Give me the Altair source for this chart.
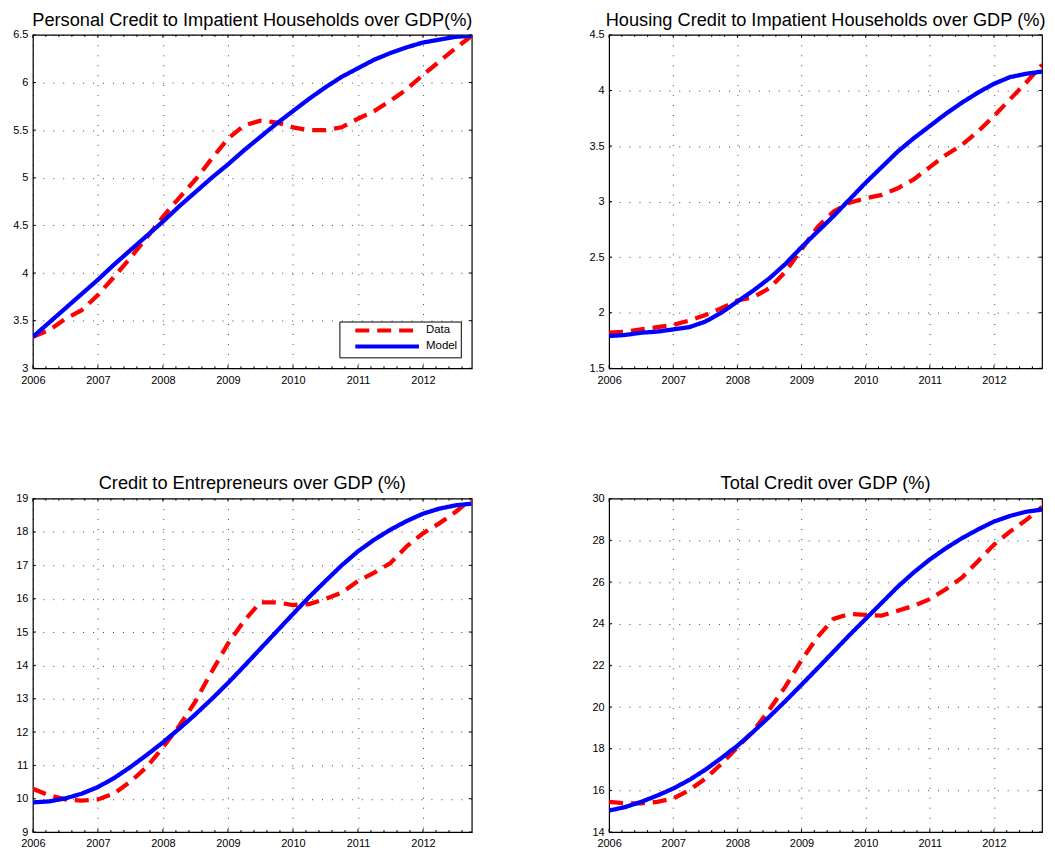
import altair as alt
import pandas as pd

# ================== DATA ==================

QUARTERS = [
    2006.0, 2006.25, 2006.5, 2006.75, 2007.0, 2007.25, 2007.5, 2007.75,
    2008.0, 2008.25, 2008.5, 2008.75, 2009.0, 2009.25, 2009.5, 2009.75,
    2010.0, 2010.25, 2010.5, 2010.75, 2011.0, 2011.25, 2011.5, 2011.75,
    2012.0, 2012.25, 2012.5, 2012.75,
]
SERIES = ["Data", "Model"]

PERSONAL_DATA = [
    3.33, 3.40, 3.52, 3.61, 3.77, 3.96, 4.16, 4.37,
    4.59, 4.79, 4.98, 5.20, 5.41, 5.55, 5.60, 5.58,
    5.53, 5.50, 5.50, 5.53, 5.62, 5.70, 5.81, 5.93,
    6.08, 6.22, 6.36, 6.49,
]
PERSONAL_MODEL = [
    3.33, 3.48, 3.63, 3.78, 3.93, 4.09, 4.24, 4.39,
    4.54, 4.70, 4.85, 5.00, 5.14, 5.29, 5.43, 5.57,
    5.70, 5.83, 5.95, 6.06, 6.15, 6.24, 6.31, 6.37,
    6.42, 6.45, 6.48, 6.49,
]

HOUSING_DATA = [
    1.82, 1.83, 1.85, 1.87, 1.89, 1.93, 1.98, 2.04,
    2.11, 2.14, 2.22, 2.37, 2.57, 2.77, 2.91, 2.99,
    3.03, 3.06, 3.12, 3.20, 3.31, 3.42, 3.51, 3.63,
    3.77, 3.92, 4.07, 4.23,
]
HOUSING_MODEL = [
    1.79, 1.80, 1.82, 1.83, 1.85, 1.87, 1.92, 2.00,
    2.10, 2.20, 2.31, 2.44, 2.59, 2.73, 2.87, 3.02,
    3.17, 3.31, 3.45, 3.57, 3.68, 3.79, 3.89, 3.98,
    4.06, 4.12, 4.15, 4.17,
]

ENTREPRENEURS_DATA = [
    10.30, 10.10, 9.98, 9.94, 9.98, 10.16, 10.51, 10.95,
    11.54, 12.18, 12.92, 13.81, 14.65, 15.34, 15.89, 15.89,
    15.81, 15.84, 15.99, 16.18, 16.53, 16.78, 17.07, 17.57,
    17.96, 18.26, 18.60, 19.00,
]
ENTREPRENEURS_MODEL = [
    9.89, 9.92, 10.01, 10.15, 10.35, 10.62, 10.95, 11.31,
    11.69, 12.10, 12.53, 12.99, 13.47, 13.98, 14.50, 15.02,
    15.54, 16.05, 16.53, 17.00, 17.42, 17.77, 18.07, 18.33,
    18.55, 18.70, 18.80, 18.85,
]

TOTAL_DATA = [
    15.45, 15.38, 15.38, 15.45, 15.61, 16.01, 16.56, 17.27,
    18.06, 18.85, 19.88, 20.99, 22.25, 23.36, 24.23, 24.47,
    24.42, 24.39, 24.62, 24.86, 25.18, 25.65, 26.21, 27.00,
    27.79, 28.42, 28.97, 29.60,
]
TOTAL_MODEL = [
    15.03, 15.20, 15.45, 15.75, 16.09, 16.50, 16.99, 17.55,
    18.14, 18.82, 19.54, 20.29, 21.07, 21.86, 22.66, 23.46,
    24.23, 25.00, 25.77, 26.46, 27.08, 27.62, 28.10, 28.52,
    28.90, 29.17, 29.37, 29.48,
]

YEAR_TICKS = [2006, 2007, 2008, 2009, 2010, 2011, 2012]
MINOR_X_TICKS = [y + f for y in YEAR_TICKS for f in (0.2, 0.4, 0.6, 0.8) if y + f < 2012.75]

# ================== STYLE ==================

FONT = "Liberation Sans"
W_LEFT, W_RIGHT, H = 441, 435, 335
TICK = 3
MINOR_TICK = 2


def make_panel(title, data_vals, model_vals, y_domain, y_ticks, width, show_legend=False):
    df = pd.DataFrame({
        "t": QUARTERS * 2,
        "value": data_vals + model_vals,
        "series": ["Data"] * len(QUARTERS) + ["Model"] * len(QUARTERS),
    })
    x_scale = alt.Scale(domain=[2006, 2012.75], nice=False, zero=False)
    y_scale = alt.Scale(domain=y_domain, nice=False, zero=False)
    x_axis = alt.Axis(values=YEAR_TICKS, format="d", title=None)
    y_axis = alt.Axis(values=y_ticks, format="~g", title=None)

    if show_legend:
        legend = alt.Legend(
            title=None, orient="bottom-right", offset=11,
            strokeColor="black", fillColor="white", padding=3,
            symbolType="M-8,0H8", symbolSize=64, symbolStrokeWidth=4,
            symbolOffset=39, labelOffset=33, rowPadding=0,
            labelExpr="datum.label + '   '",
            labelFont=FONT, labelFontSize=11.5, labelColor="black",
        )
    else:
        legend = None

    lines = alt.Chart(df).mark_line(clip=True, strokeCap="butt", strokeWidth=4.3).encode(
        x=alt.X("t:Q", scale=x_scale, axis=x_axis),
        y=alt.Y("value:Q", scale=y_scale, axis=y_axis),
        color=alt.Color("series:N", legend=legend,
                        scale=alt.Scale(domain=SERIES, range=["#ff0000", "#0000ff"])),
        strokeDash=alt.StrokeDash("series:N", legend=legend,
                                  scale=alt.Scale(domain=SERIES, range=[[14, 8], [1, 0]])),
    )

    # inward tick marks on all four sides, MATLAB style
    xt = alt.Chart(pd.DataFrame({"t": YEAR_TICKS}))
    xm = alt.Chart(pd.DataFrame({"t": MINOR_X_TICKS}))
    yt = alt.Chart(pd.DataFrame({"value": y_ticks}))
    x_enc = alt.X("t:Q", scale=x_scale, axis=x_axis)
    y_enc = alt.Y("value:Q", scale=y_scale, axis=y_axis)

    ticks = [
        xt.mark_rule(color="black").encode(x=x_enc, y=alt.value(H), y2=alt.value(H - TICK)),
        xt.mark_rule(color="black").encode(x=x_enc, y=alt.value(0), y2=alt.value(TICK)),
        xm.mark_rule(color="black").encode(x=x_enc, y=alt.value(H), y2=alt.value(H - MINOR_TICK)),
        xm.mark_rule(color="black").encode(x=x_enc, y=alt.value(0), y2=alt.value(MINOR_TICK)),
        yt.mark_rule(color="black").encode(y=y_enc, x=alt.value(0), x2=alt.value(TICK)),
        yt.mark_rule(color="black").encode(y=y_enc, x=alt.value(width), x2=alt.value(width - TICK)),
    ]

    return alt.layer(lines, *ticks).properties(
        width=width, height=H,
        title=alt.TitleParams(title, fontSize=18.3, font=FONT, fontWeight="normal",
                              color="black", anchor="middle", frame="group", offset=-1),
    )


p1 = make_panel("Personal Credit to Impatient Households over GDP(%)",
                PERSONAL_DATA, PERSONAL_MODEL, [3, 6.5],
                [3, 3.5, 4, 4.5, 5, 5.5, 6, 6.5], W_LEFT, show_legend=True)
p2 = make_panel("Housing Credit to Impatient Households over GDP (%)",
                HOUSING_DATA, HOUSING_MODEL, [1.5, 4.5],
                [1.5, 2, 2.5, 3, 3.5, 4, 4.5], W_RIGHT)
p3 = make_panel("Credit to Entrepreneurs over GDP (%)",
                ENTREPRENEURS_DATA, ENTREPRENEURS_MODEL, [9, 19],
                [9, 10, 11, 12, 13, 14, 15, 16, 17, 18, 19], W_LEFT)
p4 = make_panel("Total Credit over GDP (%)",
                TOTAL_DATA, TOTAL_MODEL, [14, 30],
                [14, 16, 18, 20, 22, 24, 26, 28, 30], W_RIGHT)

chart = (
    alt.concat(p1, p2, p3, p4, columns=2, bounds="flush",
               spacing={"row": 131, "column": 138})
    .resolve_scale(color="independent", strokeDash="independent")
    .properties(padding={"left": 0, "top": 0, "right": 0, "bottom": 0}, background="white")
    .configure_view(stroke="black", strokeWidth=1.2)
    .configure_axis(
        labelFont=FONT, labelFontSize=11, labelColor="black",
        domain=False, ticks=False, labelFlush=False,
        grid=True, gridColor="black", gridDash=[1, 9], gridOpacity=0.75, gridWidth=1,
    )
    .configure_axisY(minExtent=24, maxExtent=24, labelPadding=5)
    .configure_axisX(labelPadding=6)
)

chart.save("out.html", embed_options={"renderer": "svg", "actions": False})
